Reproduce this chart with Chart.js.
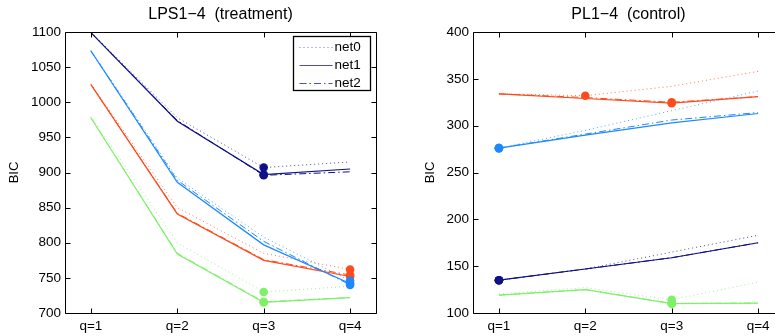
<!DOCTYPE html>
<html>
<head>
<meta charset="utf-8">
<script src="https://cdn.jsdelivr.net/npm/chart.js@4.4.0/dist/chart.umd.min.js"></script>
<style>
html, body { margin: 0; padding: 0; background: #fff; overflow: hidden; width: 775px; height: 336px; }
#lpsChart { position: absolute; left: 0; top: 0; }
#plChart { position: absolute; left: 390px; top: 0; }
</style>
</head>
<body>
<canvas id="lpsChart" width="390" height="336"></canvas>
<canvas id="plChart" width="410" height="336"></canvas>
<script>
const qValues = [1, 2, 3, 4];
const qLabels = ['q=1', 'q=2', 'q=3', 'q=4'];
const netNames = ['net0', 'net1', 'net2'];

// LPS1-4 (treatment)
const lpsNavy0 = [1100, 978, 907, 915];
const lpsNavy1 = [1099, 973, 897, 905];
const lpsNavy2 = [1099, 974, 896, 901];
const lpsBlue0 = [1074, 892, 808, 746];
const lpsBlue1 = [1073, 886, 797, 742];
const lpsBlue2 = [1073, 889, 802, 740];
const lpsRed0 = [1026, 850, 785, 762];
const lpsRed1 = [1025, 841, 775, 752];
const lpsRed2 = [1025, 842, 776, 754];
const lpsGreen0 = [980, 800, 730, 738];
const lpsGreen1 = [978, 784, 715, 722];
const lpsGreen2 = [978, 785, 716, 722];

// PL1-4 (control)
const plRed0 = [334, 332, 342, 358];
const plRed1 = [334, 329, 324, 331];
const plRed2 = [334, 330, 325, 331];
const plBlue0 = [276, 295, 316, 337];
const plBlue1 = [276, 290, 303, 313];
const plBlue2 = [276, 291, 306, 314];
const plNavy0 = [135, 147, 165, 183];
const plNavy1 = [135, 147, 159, 175];
const plNavy2 = [135, 147, 159, 175];
const plGreen0 = [120.5, 127, 114, 133];
const plGreen1 = [119, 125, 110, 110.5];
const plGreen2 = [119, 125, 110.2, 110.6];

const NAVY = '16,16,138';
const BLUE = '30,136,255';
const RED = '255,74,28';
const GREEN = '126,240,106';
const netDash = [[1, 3], [], [7, 3, 1.5, 3]];
const netAlpha = [0.75, 1, 1];
const FONT = '"Liberation Sans", Arial, sans-serif';

function makeSets(groups) {
    const sets = [];
    groups.forEach(g => {
        g.series.forEach((d, i) => {
            const lo = Math.min(...d);
            sets.push({
                label: netNames[i],
                data: d.map((v, k) => ({x: qValues[k], y: v})),
                borderColor: 'rgba(' + g.color + ',' + netAlpha[i] + ')',
                backgroundColor: 'rgb(' + g.color + ')',
                borderWidth: i === 1 ? 1.2 : 1,
                borderDash: netDash[i],
                pointRadius: d.map(v => v === lo ? 4.3 : 0),
                pointBorderWidth: 0,
                tension: 0
            });
        });
    });
    return sets;
}

const boxPlugin = {
    id: 'boxPlugin',
    afterDraw(chart) {
        const {ctx, chartArea: a, scales: {x, y}} = chart;
        const L = Math.round(a.left) + 0.5, R = Math.round(a.right) + 0.5;
        const T = Math.round(a.top) + 0.5, B = Math.round(a.bottom) + 0.5;
        ctx.save();
        ctx.strokeStyle = '#000';
        ctx.lineWidth = 1;
        ctx.setLineDash([]);
        ctx.beginPath();
        ctx.rect(L, T, R - L, B - T);
        y.ticks.forEach(t => {
            const py = Math.round(y.getPixelForValue(t.value)) + 0.5;
            ctx.moveTo(L, py); ctx.lineTo(L + 5, py);
            ctx.moveTo(R, py); ctx.lineTo(R - 5, py);
        });
        x.ticks.forEach(t => {
            const px = Math.round(x.getPixelForValue(t.value)) + 0.5;
            ctx.moveTo(px, B); ctx.lineTo(px, B - 5);
            ctx.moveTo(px, T); ctx.lineTo(px, T + 5);
        });
        ctx.stroke();
        ctx.restore();
    }
};

const legendPlugin = {
    id: 'netLegend',
    afterDraw(chart) {
        if (!chart.options.plugins.netLegend || !chart.options.plugins.netLegend.show) return;
        const {ctx, chartArea: a} = chart;
        const w = 77, h = 54;
        const left = Math.round(a.right) - 5.5 - w, top = Math.round(a.top) + 4.5;
        ctx.save();
        ctx.fillStyle = '#fff';
        ctx.fillRect(left, top, w, h);
        ctx.strokeStyle = '#000';
        ctx.lineWidth = 1.3;
        ctx.strokeRect(left, top, w, h);
        ctx.font = '13.5px ' + FONT;
        ctx.textBaseline = 'middle';
        ctx.fillStyle = '#000';
        netNames.forEach((n, i) => {
            const yy = Math.round(top + 10 + i * 18) + 0.5;
            ctx.strokeStyle = i === 0 ? 'rgba(76,76,196,0.75)' : '#4c4cc4';
            ctx.lineWidth = 1.2;
            ctx.setLineDash(netDash[i]);
            ctx.beginPath();
            ctx.moveTo(left + 6, yy);
            ctx.lineTo(left + 39, yy);
            ctx.stroke();
            ctx.setLineDash([]);
            ctx.fillText(n, left + 41, yy);
        });
        ctx.restore();
    }
};

function drawChart(id, title, sets, yMin, yMax, yWidth, titlePad, rightPad, showLegend) {
    const ctx = document.getElementById(id).getContext('2d');
    return new Chart(ctx, {
        type: 'line',
        data: {datasets: sets},
        options: {
            responsive: false,
            animation: false,
            layout: {padding: {left: 0, right: rightPad, top: 0, bottom: 0}},
            plugins: {
                legend: {display: false},
                tooltip: {enabled: false},
                title: {
                    display: true,
                    text: title,
                    fullSize: false,
                    color: '#000',
                    font: {family: FONT, size: 16, weight: 'normal', lineHeight: 1.125},
                    padding: {top: 6, bottom: 8}
                },
                netLegend: {show: showLegend}
            },
            scales: {
                x: {
                    type: 'linear',
                    min: 0.7,
                    max: 4.3,
                    grid: {display: false, drawTicks: false},
                    border: {display: false},
                    afterBuildTicks: s => { s.ticks = qValues.map(v => ({value: v})); },
                    afterFit: s => { s.height = 23; },
                    ticks: {
                        autoSkip: false,
                        maxRotation: 0,
                        padding: 5,
                        color: '#000',
                        font: {family: FONT, size: 13.5},
                        callback: v => qLabels[qValues.indexOf(v)]
                    }
                },
                y: {
                    min: yMin,
                    max: yMax,
                    grid: {display: false, drawTicks: false},
                    border: {display: false},
                    afterFit: s => { s.width = yWidth; },
                    ticks: {
                        stepSize: 50,
                        padding: 4,
                        color: '#000',
                        font: {family: FONT, size: 13.5},
                        callback: v => String(v)
                    },
                    title: {
                        display: true,
                        text: 'BIC',
                        color: '#000',
                        font: {family: FONT, size: 13},
                        padding: {top: titlePad, bottom: 0}
                    }
                }
            }
        },
        plugins: [boxPlugin, legendPlugin]
    });
}

drawChart('lpsChart', 'LPS1\u22124  (treatment)', makeSets([
    {color: NAVY, series: [lpsNavy0, lpsNavy1, lpsNavy2]},
    {color: BLUE, series: [lpsBlue0, lpsBlue1, lpsBlue2]},
    {color: RED, series: [lpsRed0, lpsRed1, lpsRed2]},
    {color: GREEN, series: [lpsGreen0, lpsGreen1, lpsGreen2]}
]), 700, 1100, 65, 7, 14, true);

drawChart('plChart', 'PL1\u22124  (control)', makeSets([
    {color: RED, series: [plRed0, plRed1, plRed2]},
    {color: BLUE, series: [plBlue0, plBlue1, plBlue2]},
    {color: NAVY, series: [plNavy0, plNavy1, plNavy2]},
    {color: GREEN, series: [plGreen0, plGreen1, plGreen2]}
]), 100, 400, 83, 33, 16, false);
</script>
</body>
</html>
